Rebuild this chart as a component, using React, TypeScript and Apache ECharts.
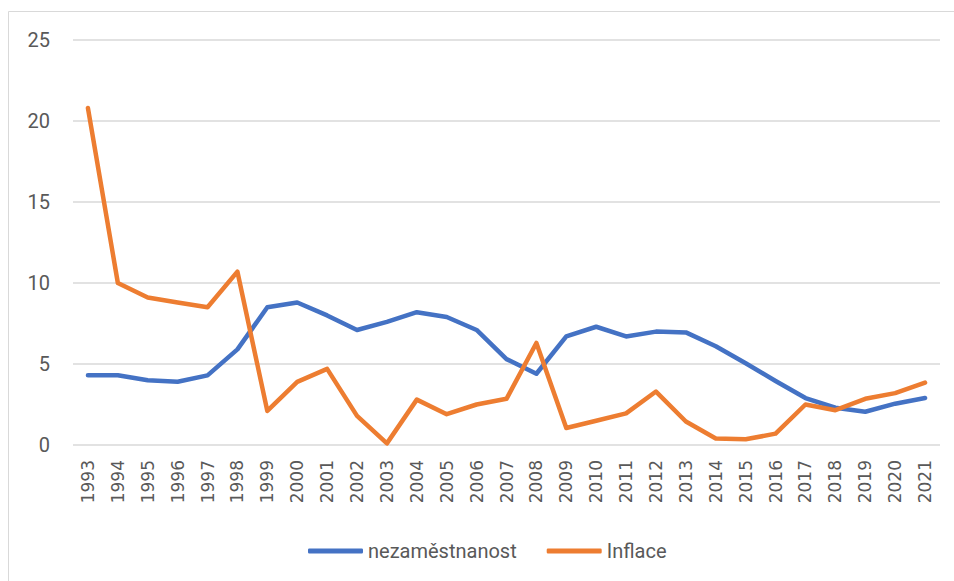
import React, { useEffect, useRef } from "react";
import * as echarts from "echarts";

const years = [
  "1993", "1994", "1995", "1996", "1997", "1998", "1999", "2000", "2001", "2002",
  "2003", "2004", "2005", "2006", "2007", "2008", "2009", "2010", "2011", "2012",
  "2013", "2014", "2015", "2016", "2017", "2018", "2019", "2020", "2021",
];

const nezamestnanost = [
  4.3, 4.3, 4.0, 3.9, 4.3, 5.9, 8.5, 8.8, 8.0, 7.1,
  7.6, 8.2, 7.9, 7.1, 5.3, 4.4, 6.7, 7.3, 6.7, 7.0,
  6.95, 6.1, 5.05, 3.95, 2.9, 2.3, 2.05, 2.55, 2.9,
];

const inflace = [
  20.8, 10.0, 9.1, 8.8, 8.5, 10.7, 2.1, 3.9, 4.7, 1.8,
  0.1, 2.8, 1.9, 2.5, 2.85, 6.3, 1.05, 1.5, 1.95, 3.3,
  1.45, 0.4, 0.35, 0.7, 2.5, 2.15, 2.85, 3.2, 3.85,
];

const yTicks = { min: 0, max: 25, interval: 5 };

const seriesNames = ["nezaměstnanost", "Inflace"];
const seriesColors = ["#4472C4", "#ED7D31"];

export default function App() {
  const ref = useRef<HTMLDivElement>(null);

  useEffect(() => {
    if (!ref.current) return;
    const chart = echarts.init(ref.current, null, { renderer: "svg" });
    const dataSets = [nezamestnanost, inflace];
    chart.setOption({
      animation: false,
      backgroundColor: "#ffffff",
      graphic: [
        {
          type: "rect",
          shape: { x: 8.5, y: 11.5, width: 946, height: 600 },
          style: { fill: "none", stroke: "#d9d9d9", lineWidth: 1 },
          silent: true,
        },
      ],
      grid: { left: 73, right: 14, top: 40, bottom: 136, containLabel: false },
      legend: {
        left: 303,
        top: 536,
        itemWidth: 55,
        itemHeight: 5,
        itemGap: 30,
        icon: "roundRect",
        textStyle: {
          color: "#595959",
          fontSize: 20,
          fontFamily: "Roboto, 'Liberation Sans', sans-serif",
        },
        data: seriesNames,
      },
      xAxis: {
        type: "category",
        data: years,
        boundaryGap: true,
        axisLine: { show: false },
        axisTick: { show: false },
        axisLabel: {
          rotate: 90,
          margin: 15,
          color: "#595959",
          fontSize: 17,
          fontFamily: "'DejaVu Sans', sans-serif",
          interval: 0,
        },
      },
      yAxis: {
        type: "value",
        min: yTicks.min,
        max: yTicks.max,
        interval: yTicks.interval,
        axisLine: { show: false },
        axisTick: { show: false },
        axisLabel: {
          margin: 23,
          color: "#595959",
          fontSize: 20,
          fontFamily: "Roboto, 'Liberation Sans', sans-serif",
        },
        splitLine: { lineStyle: { color: "#d9d9d9", width: 1.5 } },
      },
      series: seriesNames.map((name, i) => ({
        name,
        type: "line",
        data: dataSets[i],
        symbol: "none",
        color: seriesColors[i],
        lineStyle: { color: seriesColors[i], width: 4.5, cap: "round", join: "round" },
      })),
    });
    return () => chart.dispose();
  }, []);

  return (
    <div
      ref={ref}
      style={{ position: "absolute", left: 0, top: 0, width: 954, height: 581 }}
    />
  );
}
